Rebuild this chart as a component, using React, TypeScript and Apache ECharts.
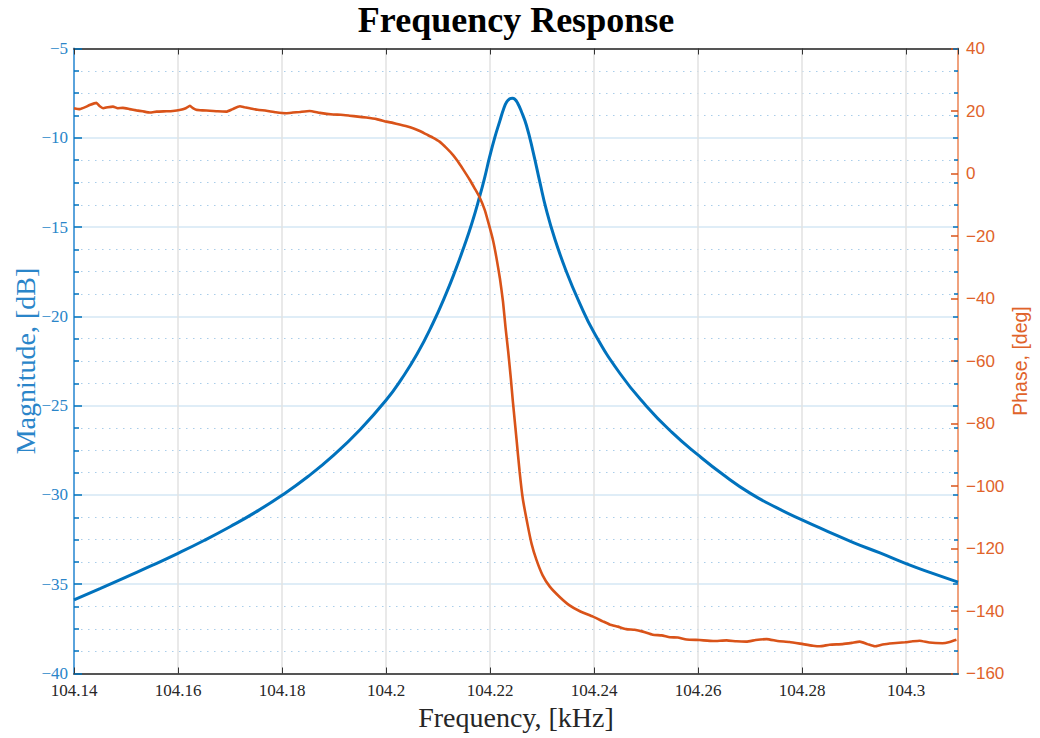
import React, { useEffect, useRef } from "react";
import * as echarts from "echarts";

const TITLE = "Frequency Response";
const X_NAME = "Frequency, [kHz]";
const Y_LEFT_NAME = "Magnitude, [dB]";
const Y_RIGHT_NAME = "Phase, [deg]";

// [frequency kHz, magnitude dB]
const magnitude: [number, number][] = [
  [104.14, -35.88], [104.145, -35.25], [104.15, -34.6], [104.155, -33.95],
  [104.16, -33.27], [104.165, -32.55], [104.17, -31.78], [104.175, -30.95],
  [104.18, -30.02], [104.185, -28.97], [104.19, -27.76], [104.195, -26.35],
  [104.2, -24.7], [104.203, -23.5], [104.206, -22.1], [104.209, -20.4],
  [104.2116, -18.7], [104.2135, -17.3], [104.215, -16.1], [104.2165, -14.8],
  [104.218, -13.3], [104.219, -12.2], [104.2199, -11.1], [104.2209, -10.0],
  [104.2219, -9.05], [104.2226, -8.4], [104.2232, -8.0], [104.2238, -7.82],
  [104.2243, -7.78], [104.2248, -7.85], [104.2253, -8.05], [104.226, -8.5],
  [104.227, -9.3], [104.2283, -10.8], [104.2296, -12.5], [104.2308, -14.0],
  [104.2325, -15.7], [104.2347, -17.5], [104.237, -19.1], [104.24, -20.9],
  [104.245, -23.2], [104.25, -25.0], [104.255, -26.5], [104.26, -27.76],
  [104.265, -28.9], [104.27, -29.9], [104.275, -30.7], [104.28, -31.4],
  [104.285, -32.05], [104.29, -32.68], [104.295, -33.25], [104.3, -33.85],
  [104.305, -34.38], [104.31, -34.88],
];

// [frequency kHz, phase deg]
const phase: [number, number][] = [
  [104.14, 20.9], [104.1411, 20.6], [104.1424, 21.4], [104.143, 21.9],
  [104.1443, 22.6], [104.1449, 21.6], [104.1456, 20.9], [104.1465, 21.2],
  [104.1475, 21.4], [104.1484, 20.9], [104.1494, 21.0], [104.1507, 20.6],
  [104.152, 20.2], [104.1532, 19.9], [104.1546, 19.5], [104.1559, 19.8],
  [104.1578, 19.9], [104.159, 20.0], [104.1603, 20.3], [104.1615, 20.9],
  [104.1623, 21.7], [104.1628, 21.0], [104.1635, 20.4], [104.1647, 20.2],
  [104.1661, 20.1], [104.1676, 19.9], [104.1693, 19.8], [104.1705, 20.6],
  [104.1719, 21.5], [104.1728, 21.2], [104.1738, 20.9], [104.1753, 20.4],
  [104.177, 20.1], [104.1788, 19.6], [104.1808, 19.3], [104.1821, 19.5],
  [104.1834, 19.7], [104.1853, 20.0], [104.1873, 19.4], [104.1898, 18.9],
  [104.1913, 18.8], [104.193, 18.5], [104.1946, 18.2], [104.1962, 17.9],
  [104.1982, 17.4], [104.2001, 16.6], [104.2013, 16.2], [104.2026, 15.7],
  [104.2038, 15.2], [104.2052, 14.5], [104.2065, 13.6], [104.2078, 12.5],
  [104.209, 11.5], [104.2103, 10.2], [104.2116, 8.2], [104.2129, 5.9],
  [104.2138, 3.9], [104.2148, 1.4], [104.2161, -2.0], [104.2171, -4.9],
  [104.218, -7.6], [104.219, -11.7], [104.2199, -17.0], [104.2206, -21.5],
  [104.2212, -26.6], [104.2219, -33.5], [104.2225, -41.0], [104.223, -49.5],
  [104.2235, -57.0], [104.224, -65.5], [104.2244, -73.0], [104.2251, -85.0],
  [104.2257, -95.5], [104.2263, -104.0], [104.2273, -113.0], [104.228, -118.5],
  [104.2289, -123.5], [104.2301, -128.5], [104.2315, -132.2], [104.2334, -135.5],
  [104.2353, -138.2], [104.2372, -140.0], [104.2398, -141.8], [104.2417, -143.3],
  [104.243, -144.3], [104.2446, -145.0], [104.2462, -145.8], [104.2478, -146.0],
  [104.2494, -146.6], [104.2513, -147.6], [104.253, -147.8], [104.2546, -148.4],
  [104.2561, -148.5], [104.2578, -149.1], [104.2603, -149.3], [104.2629, -149.6],
  [104.2655, -149.4], [104.2674, -149.7], [104.2693, -149.8], [104.2711, -149.3],
  [104.2732, -149.0], [104.2753, -149.6], [104.2776, -149.9], [104.2802, -150.6],
  [104.2821, -151.1], [104.2834, -151.3], [104.2853, -150.8], [104.2878, -150.6],
  [104.2896, -150.2], [104.2911, -149.8], [104.2926, -150.6], [104.294, -151.3],
  [104.2955, -150.7], [104.2975, -150.3], [104.2998, -150.0], [104.3013, -149.7],
  [104.3026, -149.5], [104.3045, -150.1], [104.307, -150.3], [104.3084, -149.9],
  [104.3097, -149.2],
];

const X_MIN = 104.14;
const X_MAX = 104.31;
const X_STEP = 0.02;
const MAG_MIN = -40;
const MAG_MAX = -5;
const MAG_STEP = 5;
const PH_MIN = -160;
const PH_MAX = 40;
const PH_STEP = 20;

const BLUE = "#0072BD";
const ORANGE = "#D95319";
const SERIF = "Liberation Serif";
const SANS = "Liberation Sans";

const minus = (v: number) => String(v).replace("-", "\u2212");

export default function App() {
  const ref = useRef<HTMLDivElement>(null);

  useEffect(() => {
    if (!ref.current) return;
    const chart = echarts.init(ref.current, undefined, { renderer: "svg" });
    const fmtX = (v: number) => String(parseFloat(v.toFixed(2)));
    chart.setOption({
      animation: false,
      backgroundColor: "#ffffff",
      title: {
        text: TITLE,
        left: 516,
        top: 2,
        padding: 0,
        textAlign: "center",
        textStyle: { fontFamily: SERIF, fontSize: 36, fontWeight: "bold", color: "#000" },
      },
      grid: { left: 74, right: 82, top: 48.5, bottom: 64.5, outerBoundsMode: "none", containLabel: false },
      xAxis: [
        {
          type: "value",
          min: X_MIN,
          max: X_MAX,
          interval: X_STEP,
          position: "bottom",
          name: X_NAME,
          nameLocation: "middle",
          nameGap: 30,
          nameMoveOverlap: false,
          nameTextStyle: { fontFamily: SERIF, fontSize: 28, color: "#262626" },
          axisLine: { show: true, onZero: false, lineStyle: { color: "#555", width: 2 } },
          axisTick: { show: true, inside: true, length: 6, lineStyle: { color: "#333", width: 1 } },
          axisLabel: {
            formatter: fmtX,
            showMaxLabel: false,
            margin: 8,
            fontFamily: SERIF,
            fontSize: 17,
            color: "#262626",
          },
          splitLine: { show: true, lineStyle: { color: "#e2e2e2", width: 1.5 } },
        },
        {
          type: "value",
          min: X_MIN,
          max: X_MAX,
          interval: X_STEP,
          position: "top",
          axisLine: { show: true, onZero: false, lineStyle: { color: "#555", width: 2 } },
          axisTick: { show: true, inside: true, length: 6, lineStyle: { color: "#333", width: 1 } },
          axisLabel: { show: false },
          splitLine: { show: false },
        },
      ],
      yAxis: [
        {
          type: "value",
          min: MAG_MIN,
          max: MAG_MAX,
          interval: MAG_STEP,
          position: "left",
          name: Y_LEFT_NAME,
          nameLocation: "middle",
          nameGap: 35,
          nameMoveOverlap: false,
          nameTextStyle: { fontFamily: SERIF, fontSize: 28, color: "#2a85c9" },
          axisLine: { show: true, onZero: false, lineStyle: { color: "#5aa3dc", width: 2 } },
          axisTick: { show: true, inside: true, length: 8, lineStyle: { color: BLUE, width: 1.5 } },
          minorTick: { show: true, splitNumber: 4, length: 5, lineStyle: { color: BLUE, width: 1.5 } },
          axisLabel: { formatter: minus, margin: 6, fontFamily: SERIF, fontSize: 17, color: "#2a85c9" },
          splitLine: { show: true, lineStyle: { color: "#d5e7f5", width: 1.5 } },
          minorSplitLine: { show: true, lineStyle: { color: "#a9cdea", width: 1.2, type: [1.5, 5.5] } },
        },
        {
          type: "value",
          min: PH_MIN,
          max: PH_MAX,
          interval: PH_STEP,
          position: "right",
          name: Y_RIGHT_NAME,
          nameLocation: "middle",
          nameGap: 52,
          nameRotate: 90,
          nameMoveOverlap: false,
          nameTextStyle: { fontFamily: SANS, fontSize: 19.5, color: "#e0632a" },
          axisLine: { show: true, onZero: false, lineStyle: { color: "#f0a27e", width: 2 } },
          axisTick: { show: true, inside: true, length: 7, lineStyle: { color: ORANGE, width: 1.5 } },
          axisLabel: { formatter: minus, margin: 8, fontFamily: SANS, fontSize: 17, color: "#e0632a" },
          splitLine: { show: false },
        },
        {
          type: "value",
          min: MAG_MIN,
          max: MAG_MAX,
          interval: MAG_STEP,
          position: "right",
          axisLine: { show: false, onZero: false },
          axisTick: { show: true, inside: true, length: 5, lineStyle: { color: BLUE, width: 1.5 } },
          minorTick: { show: true, splitNumber: 4, length: 4, lineStyle: { color: BLUE, width: 1.5 } },
          axisLabel: { show: false },
          splitLine: { show: false },
        },
      ],
      series: [
        {
          name: "Magnitude",
          type: "line",
          xAxisIndex: 0,
          yAxisIndex: 0,
          data: magnitude,
          smooth: 0.5,
          showSymbol: false,
          lineStyle: { color: BLUE, width: 3 },
          z: 3,
        },
        {
          name: "Phase",
          type: "line",
          xAxisIndex: 0,
          yAxisIndex: 1,
          data: phase,
          smooth: 0.15,
          showSymbol: false,
          lineStyle: { color: ORANGE, width: 2.6 },
          z: 4,
        },
      ],
    });
    return () => chart.dispose();
  }, []);

  return (
    <div
      ref={ref}
      style={{ position: "fixed", left: 0, top: 0, width: 1040, height: 738, background: "#fff" }}
    />
  );
}
